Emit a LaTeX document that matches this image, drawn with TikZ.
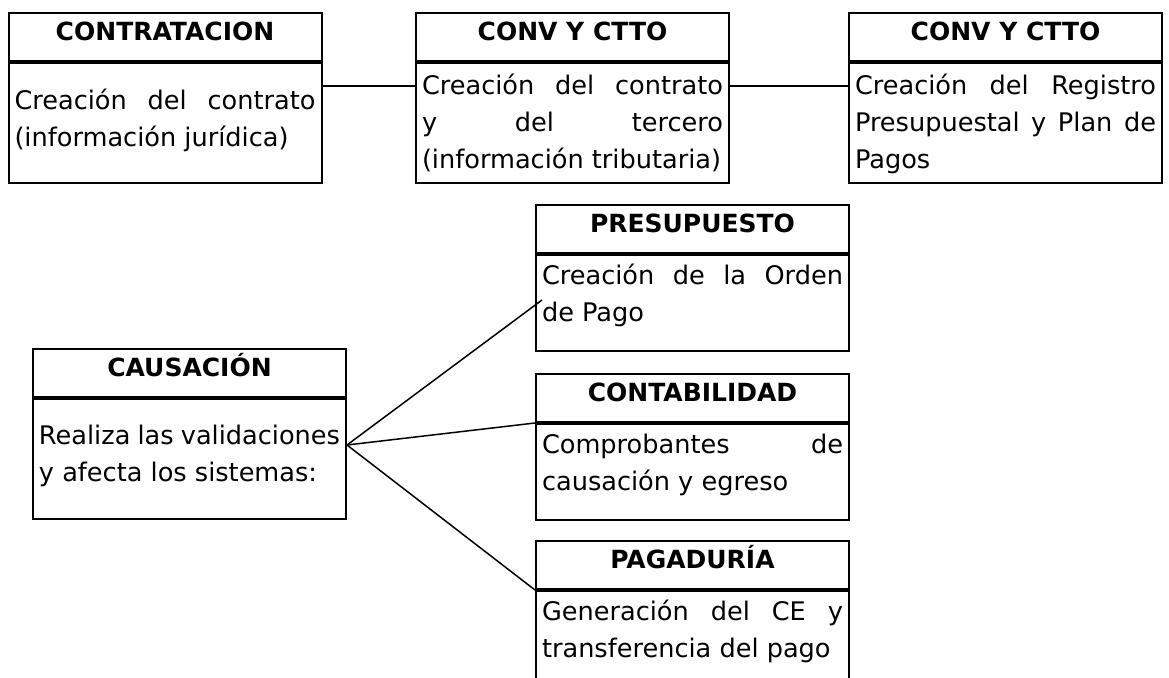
\documentclass[tikz,border=0pt]{standalone}
\usepackage{fontspec}
\setmainfont{DejaVu Sans}
\usetikzlibrary{positioning}

\begin{document}
\begin{tikzpicture}[x=0.5pt,y=-0.5pt,
    hdrbox/.style={draw,line width=1pt,minimum width=156.5pt,inner sep=0pt,
        text height=14pt,text depth=10pt,anchor=north,
        font=\fontsize{12.5pt}{18.5pt}\selectfont\bfseries},
    txtbox/.style={draw,line width=1pt,text width=150.5pt,inner xsep=3pt,inner ysep=0pt,
        align=justify,font=\fontsize{12.8pt}{18.5pt}\selectfont,
        execute at begin node={\tolerance=10000\hyphenpenalty=10000\hfuzz=5pt}},
    joinline/.style={line width=0.75pt}]
    \useasboundingbox (0,0) rectangle (1169,678);
    \clip (0,0) rectangle (1169,678);

    \node[hdrbox] (contrat) at (165,12) {CONTRATACION};
    \node[txtbox,below=0pt of contrat,text height=23.5pt,text depth=36.5pt] (contratTxt)
        {Creación del contrato\linebreak (información jurídica)};

    \node[hdrbox] (convA) at (572.5,12) {CONV Y CTTO};
    \node[txtbox,below=0pt of convA,text height=16pt,text depth=44pt] (convATxt)
        {Creación del contrato\linebreak y del tercero\linebreak (información tributaria)};

    \node[hdrbox] (convB) at (1005.5,12) {CONV Y CTTO};
    \node[txtbox,below=0pt of convB,text height=16pt,text depth=44pt] (convBTxt)
        {Creación del Registro\linebreak Presupuestal y Plan de\linebreak Pagos};

    \node[hdrbox] (presup) at (692.5,204) {PRESUPUESTO};
    \node[txtbox,below=0pt of presup,text height=15pt,text depth=33pt] (presupTxt)
        {Creación de la Orden\linebreak de Pago};

    \node[hdrbox] (causa) at (189.5,348) {CAUSACIÓN};
    \node[txtbox,below=0pt of causa,text height=23pt,text depth=37pt] (causaTxt)
        {Realiza las validaciones\linebreak y afecta los sistemas:};

    \node[hdrbox] (conta) at (692.5,373) {CONTABILIDAD};
    \node[txtbox,below=0pt of conta,text height=15pt,text depth=33pt] (contaTxt)
        {Comprobantes de\linebreak causación y egreso};

    \node[hdrbox] (pagad) at (692.5,540) {PAGADURÍA};
    \node[txtbox,below=0pt of pagad,text height=15pt,text depth=45pt] (pagadTxt)
        {Generación del CE y\linebreak transferencia del pago};

    \draw[joinline] ([yshift=-12pt]contratTxt.north east) -- ([yshift=-12pt]convATxt.north west);
    \draw[joinline] ([yshift=-12pt]convATxt.north east) -- ([yshift=-12pt]convBTxt.north west);
    \coordinate (fan) at ([yshift=7pt]causaTxt.east);
    \draw[joinline] (fan) -- ([xshift=3.5pt,yshift=1.5pt]presupTxt.west);
    \draw[joinline] (fan) -- (contaTxt.north west);
    \draw[joinline] (fan) -- (pagadTxt.north west);
\end{tikzpicture}
\end{document}
